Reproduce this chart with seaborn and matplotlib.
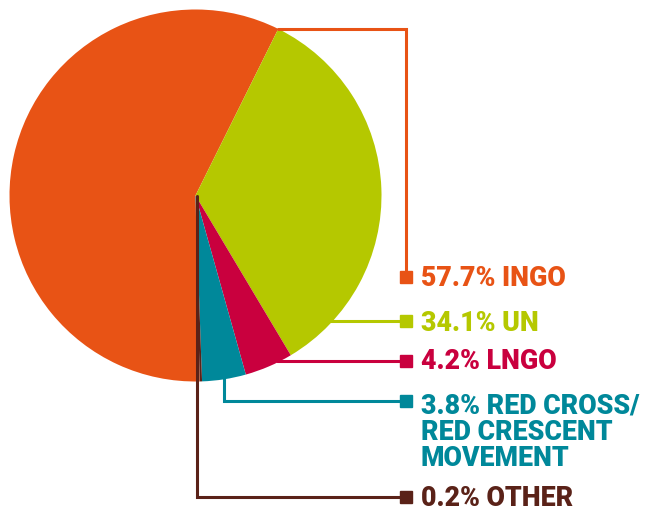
import numpy as np
import matplotlib
matplotlib.use("Agg")
import matplotlib.pyplot as plt
import seaborn as sns

# =========================
# Data
# =========================
names = ["INGO", "UN", "LNGO", "RED CROSS/\nRED CRESCENT\nMOVEMENT", "OTHER"]
shares = [57.7, 34.1, 4.2, 3.8, 0.2]
colors = ["#E85315", "#B5C800", "#C9003E", "#00889A", "#5A2218"]

sns.set_theme(style="white")
plt.rcParams["font.family"] = ["Roboto", "DejaVu Sans"]

W, H = 650, 511
fig = plt.figure(figsize=(W / 100, H / 100), dpi=100)
ax = fig.add_axes([0, 0, 1, 1])

# pixel coords -> data coords (y up)
cx, cy, r = 195.5, H - 195.5, 186

wedges, _ = ax.pie(shares, colors=colors, startangle=271.3, counterclock=False,
                   center=(cx, cy), radius=r, wedgeprops=dict(linewidth=0))
ax.set_xlim(0, W)
ax.set_ylim(0, H)
ax.set_aspect("equal")
ax.axis("off")

# =========================
# Leader lines and labels
# =========================
mx = 406          # marker x (pixels)
tx = 421          # text x
lw = 2.2
marker_y = [277, 320.5, 361, 401, 497]   # marker centres, pixels from top
base_y = [286, 331, 369, 413, 506]       # first text baseline, pixels from top
line_gap = 26.5

def Y(py):
    return H - py

# INGO: from the top boundary of the wedge, across and down
a = np.deg2rad(63.6)
px, py = cx + r * np.cos(a), cy + r * np.sin(a)
ax.plot([px, mx, mx], [py, py, Y(marker_y[0])], color=colors[0], lw=lw,
        solid_joinstyle="miter")

# UN and LNGO: horizontal lines from the pie edge
for i in (1, 2):
    yy = Y(marker_y[i])
    xe = cx + np.sqrt(r ** 2 - (yy - cy) ** 2) - 3
    ax.plot([xe, mx], [yy, yy], color=colors[i], lw=lw)

# Red Cross: down from the edge, then across
xv = 223.5
ye = cy - np.sqrt(r ** 2 - (xv - cx) ** 2) + 3
ax.plot([xv, xv, mx], [ye, Y(marker_y[3]), Y(marker_y[3])], color=colors[3],
        lw=lw, solid_joinstyle="miter")

# Other: from the centre straight down, then across
xv = 197
ax.plot([xv, xv, mx], [cy, Y(marker_y[4]), Y(marker_y[4])], color=colors[4],
        lw=lw, solid_joinstyle="miter")

for i, (n, s) in enumerate(zip(names, shares)):
    ax.plot([mx], [Y(marker_y[i])], marker="s", markersize=8.7,
            color=colors[i], zorder=5)
    lines = f"{s}% {n}".split("\n")
    for k, line in enumerate(lines):
        ax.text(tx, Y(base_y[i] + k * line_gap), line, color=colors[i],
                fontsize=19.3, fontweight="heavy", va="baseline", ha="left")

fig.savefig("out.png", dpi=100)
